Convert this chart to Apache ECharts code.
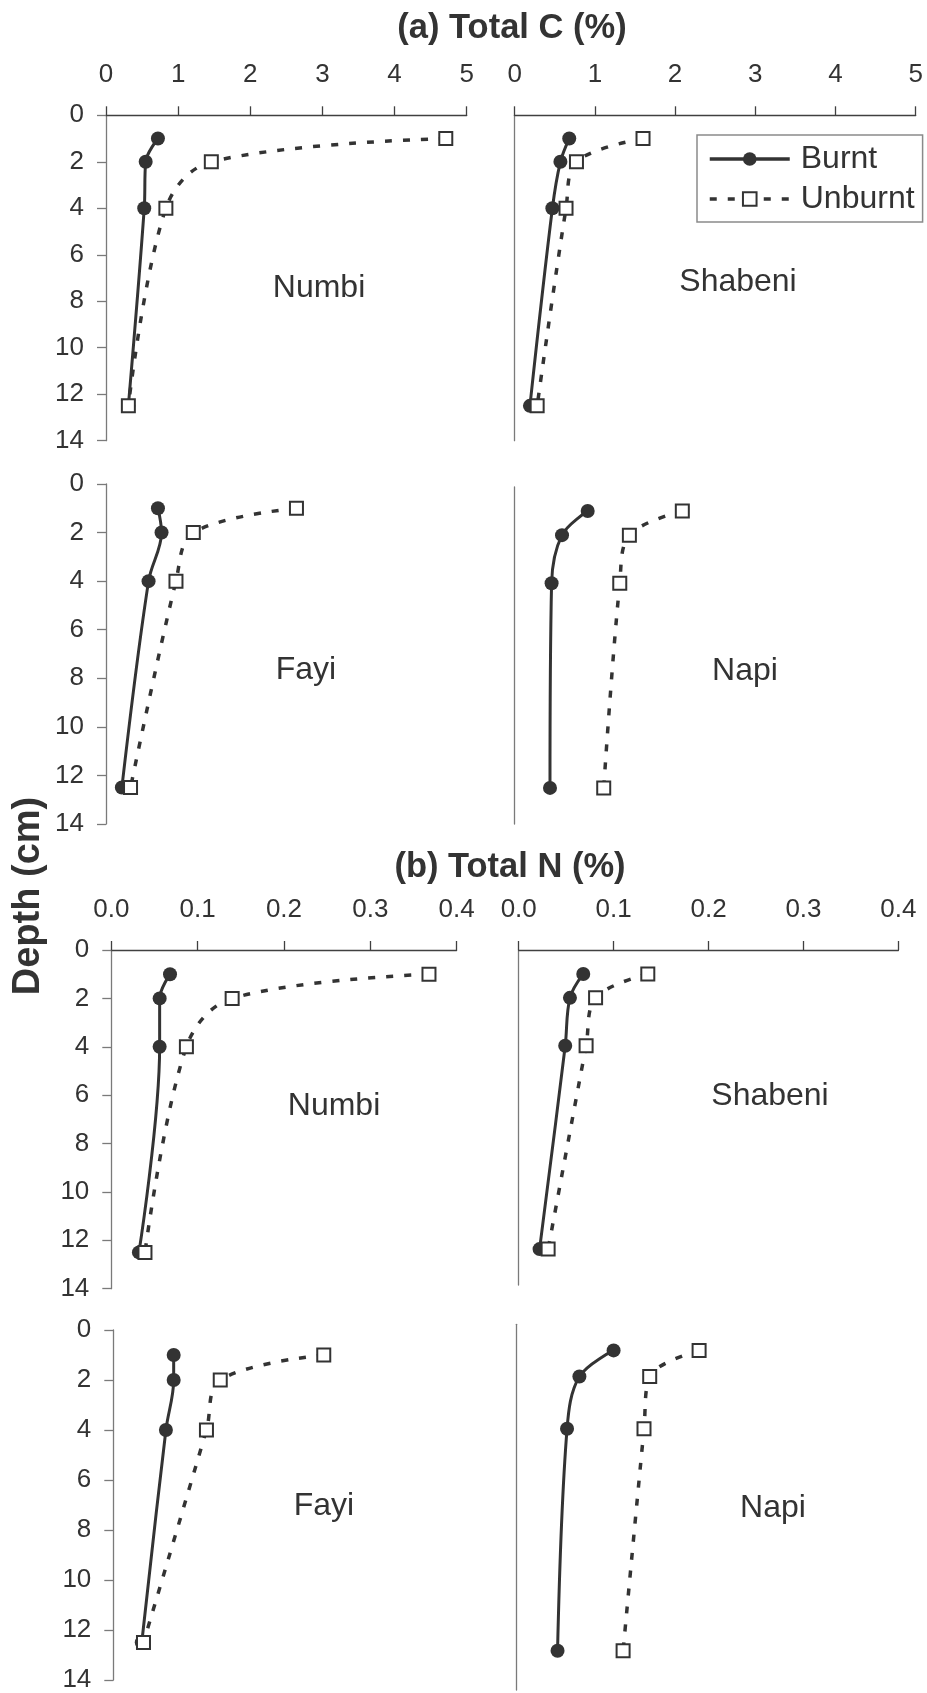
<!DOCTYPE html>
<html>
<head>
<meta charset="utf-8">
<script src="https://cdn.jsdelivr.net/npm/echarts@6/dist/echarts.min.js"></script>
<style>
html,body{margin:0;padding:0;background:#fff;}
#chart{width:927px;height:1693px;}
</style>
</head>
<body>
<div id="chart"></div>
<script>
// ---- data (depth in cm, values in %) ----
const depths = [1, 2, 4, 12.5];
const cTicks = [0, 1, 2, 3, 4, 5];
const nTicks = [0.0, 0.1, 0.2, 0.3, 0.4];
const depthTicks = [0, 2, 4, 6, 8, 10, 12, 14];
const sites = ['Numbi', 'Shabeni', 'Fayi', 'Napi'];
const seriesNames = ['Burnt', 'Unburnt'];

const cNumbiBurnt = [0.72, 0.55, 0.53, 0.31];
const cNumbiUnburnt = [4.71, 1.46, 0.83, 0.31];
const cShabeniBurnt = [0.68, 0.57, 0.47, 0.19];
const cShabeniUnburnt = [1.60, 0.77, 0.64, 0.28];
const cFayiBurnt = [0.72, 0.77, 0.59, 0.22];
const cFayiUnburnt = [2.64, 1.21, 0.97, 0.34];
const cNapiBurnt = [0.91, 0.59, 0.46, 0.44];
const cNapiUnburnt = [2.09, 1.43, 1.31, 1.11];

const nNumbiBurnt = [0.068, 0.056, 0.056, 0.032];
const nNumbiUnburnt = [0.368, 0.140, 0.087, 0.039];
const nShabeniBurnt = [0.068, 0.054, 0.049, 0.022];
const nShabeniUnburnt = [0.136, 0.081, 0.071, 0.031];
const nFayiBurnt = [0.070, 0.070, 0.061, 0.033];
const nFayiUnburnt = [0.244, 0.124, 0.108, 0.035];
const nNapiBurnt = [0.102, 0.066, 0.053, 0.043];
const nNapiUnburnt = [0.192, 0.140, 0.134, 0.112];

// ---- layout ----
const FONT = "'Liberation Sans', Arial, sans-serif";
const INK = '#333333';
const panels = [
  {grid:{left:106, top:115.3, width:360.7, height:325.4}, kind:'C', xLab:true,  yLab:true,  xShow:true,  site:0, b:cNumbiBurnt,   u:cNumbiUnburnt,   lx:319, ly:288},
  {grid:{left:514.7, top:115.3, width:401, height:325.4}, kind:'C', xLab:true,  yLab:false, xShow:true,  site:1, b:cShabeniBurnt, u:cShabeniUnburnt, lx:738, ly:282},
  {grid:{left:106, top:484, width:360.7, height:340},     kind:'C', xLab:false, yLab:true,  xShow:false, site:2, b:cFayiBurnt,    u:cFayiUnburnt,    lx:306, ly:670},
  {grid:{left:514.7, top:487, width:401, height:337},     kind:'C', xLab:false, yLab:false, xShow:false, site:3, b:cNapiBurnt,    u:cNapiUnburnt,    lx:745, ly:671},
  {grid:{left:111.3, top:950, width:345.3, height:338.7}, kind:'N', xLab:true,  yLab:true,  xShow:true,  site:0, b:nNumbiBurnt,   u:nNumbiUnburnt,   lx:334, ly:1106},
  {grid:{left:518.7, top:950, width:379.7, height:335},   kind:'N', xLab:true,  yLab:false, xShow:true,  site:1, b:nShabeniBurnt, u:nShabeniUnburnt, lx:770, ly:1096},
  {grid:{left:113.3, top:1330, width:345, height:350.7},  kind:'N', xLab:false, yLab:true,  xShow:false, site:2, b:nFayiBurnt,    u:nFayiUnburnt,    lx:324, ly:1506},
  {grid:{left:516.7, top:1324.3, width:380, height:365.7},kind:'N', xLab:false, yLab:false, xShow:false, site:3, b:nNapiBurnt,    u:nNapiUnburnt,    lx:773, ly:1508}
];

const grids = [], xAxes = [], yAxes = [], series = [], graphics = [];
panels.forEach((p, i) => {
  grids.push(Object.assign({containLabel:false}, p.grid));
  const ticks = p.kind === 'C' ? cTicks : nTicks;
  const step = ticks[1] - ticks[0];
  xAxes.push({
    type:'value', gridIndex:i, position:'top', show:p.xShow,
    min:ticks[0], max:ticks[ticks.length-1], interval:step,
    splitLine:{show:false},
    axisLine:{show:true, lineStyle:{color:'#404040', width:1.3}},
    axisTick:{show:true, inside:false, length:9, lineStyle:{color:'#404040', width:1.3}},
    axisLabel:{show:p.xLab, margin:27, fontSize:26, color:INK, fontFamily:FONT,
      formatter: v => p.kind === 'C' ? String(Math.round(v)) : (Math.round(v*10)/10).toFixed(1)}
  });
  yAxes.push({
    type:'value', gridIndex:i, inverse:true,
    min:depthTicks[0], max:depthTicks[depthTicks.length-1], interval:depthTicks[1]-depthTicks[0],
    splitLine:{show:false},
    axisLine:{show:true, onZero:false, lineStyle:{color:'#7a7a7a', width:1.3}},
    axisTick:{show:p.yLab, inside:false, length:9, lineStyle:{color:'#7a7a7a', width:1.3}},
    axisLabel:{show:p.yLab, margin:22, fontSize:26, color:INK, fontFamily:FONT}
  });
  [[p.b, true], [p.u, false]].forEach(([vals, burnt]) => {
    series.push({
      name: burnt ? seriesNames[0] : seriesNames[1],
      type:'line', xAxisIndex:i, yAxisIndex:i,
      data: vals.map((v, k) => [v, depths[k]]),
      smooth:0.35,
      symbol: burnt ? 'circle' : 'rect',
      symbolSize: burnt ? 14 : 13,
      showSymbol:true,
      clip:false,
      lineStyle: burnt ? {color:INK, width:3, type:'solid'} : {color:INK, width:3.5, type:[7, 11]},
      itemStyle: burnt ? {color:INK} : {color:'#ffffff', borderColor:INK, borderWidth:2},
      z: burnt ? 3 : 4,
      animation:false
    });
  });
  graphics.push({type:'text', x:p.lx, y:p.ly,
    style:{text:sites[p.site], fontSize:32, fill:INK, fontFamily:FONT, align:'center', verticalAlign:'middle'}});
});

graphics.push({type:'text', x:512, y:28,
  style:{text:'(a) Total C (%)', fontSize:34.5, fontWeight:'bold', fill:INK, fontFamily:FONT, align:'center', verticalAlign:'middle'}});
graphics.push({type:'text', x:510, y:867,
  style:{text:'(b) Total N (%)', fontSize:34.5, fontWeight:'bold', fill:INK, fontFamily:FONT, align:'center', verticalAlign:'middle'}});
graphics.push({type:'text', x:29, y:896, rotation:Math.PI/2,
  style:{text:'Depth (cm)', fontSize:38, fontWeight:'bold', fill:INK, fontFamily:FONT, align:'center', verticalAlign:'middle'}});

const chart = echarts.init(document.getElementById('chart'), null, {renderer:'canvas'});
chart.setOption({
  backgroundColor:'#ffffff',
  animation:false,
  grid:grids, xAxis:xAxes, yAxis:yAxes, series:series,
  legend:{
    data:seriesNames, orient:'vertical', left:697, top:135,
    backgroundColor:'#ffffff',
    borderColor:'#8a8a8a', borderWidth:1.5, padding:[8, 8, 7, 11],
    itemWidth:80, itemHeight:17, itemGap:8,
    lineStyle:{width:3.5},
    textStyle:{fontSize:32, color:INK, fontFamily:FONT, padding:[0,0,0,6]}
  },
  graphic:graphics
});
</script>
</body>
</html>
